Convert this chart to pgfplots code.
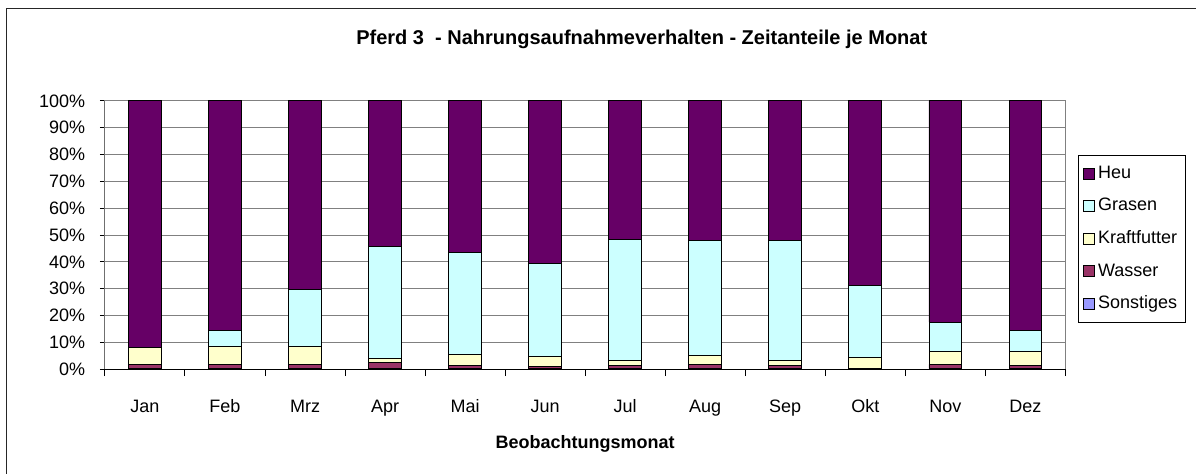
\documentclass[border=0pt]{standalone}
\usepackage{fontspec}
\setmainfont{Liberation Sans}
\usepackage{pgfplots}
\usepackage{pgfplotstable}
\pgfplotsset{compat=1.18}
\definecolor{heu}{HTML}{660066}
\definecolor{grasen}{HTML}{CCFFFF}
\definecolor{kraft}{HTML}{FFFFCC}
\definecolor{wasser}{HTML}{993366}
\definecolor{sonst}{HTML}{9999FF}
\definecolor{gridgray}{HTML}{808080}
\pgfplotstableread{
x S W K G H
0 0.3 1.5 6.4 0.0 91.8
1 0.3 1.5 6.5 6.2 85.5
2 0.3 1.5 6.5 21.3 70.4
3 0.3 2.1 1.4 41.8 54.4
4 0.3 1.0 4.3 38.0 56.4
5 0.3 0.5 3.8 34.6 60.8
6 0.3 1.2 1.8 45.0 51.7
7 0.3 1.45 3.35 42.7 52.2
8 0.3 1.2 1.8 44.5 52.2
9 0.2 0.1 4.2 26.5 69.0
10 0.3 1.45 4.85 10.9 82.5
11 0.3 1.1 5.2 7.7 85.7
}\data
\begin{document}
\begin{tikzpicture}
\path (0pt,0pt) rectangle (598.5pt,237pt);
\draw[line width=0.75pt, black!85] (3.35pt,0pt) -- (3.35pt,232.85pt) -- (598.5pt,232.85pt);
\node[font=\fontsize{10}{12}\selectfont\bfseries, anchor=base, inner sep=0pt] at (321.1pt,214.5pt) {Pferd 3\ \ - Nahrungsaufnahmeverhalten - Zeitanteile je Monat};
\begin{axis}[
  at={(52.5pt,52.35pt)}, anchor=south west,
  scale only axis, width=480.5pt, height=134.15pt,
  ybar stacked, bar width=16.3pt,
  xmin=-0.5, xmax=11.5, ymin=0, ymax=100,
  axis line style={gridgray, line width=0.5pt},
  font=\fontsize{9}{10.8}\selectfont,
  /pgf/number format/assume math mode=true,
  xtick={0,...,11},
  xticklabels={Jan,Feb,Mrz,Apr,Mai,Jun,Jul,Aug,Sep,Okt,Nov,Dez},
  xtick style={draw=none},
  xticklabel style={anchor=base, yshift=-19pt, inner sep=0pt},
  extra x ticks={-0.5,0.5,...,11.5},
  extra x tick labels={},
  extra x tick style={xtick style={draw=black, line width=0.5pt}, major tick length=3.5pt, tick align=outside},
  ytick={0,10,...,100},
  yticklabel={\pgfmathprintnumber{\tick}\%},
  yticklabel style={anchor=east, inner sep=0pt, xshift=-7.15pt},
  ytick style={draw=black, line width=0.5pt},
  major tick length=2.5pt,
  tick align=outside,
  xtick pos=bottom, ytick pos=left,
  ymajorgrids, grid style={gridgray, line width=0.5pt},
  xlabel={\bfseries Beobachtungsmonat},
  xlabel style={at={(axis description cs:0.5,0)}, anchor=base, yshift=-39.5pt, inner sep=0pt},
  reverse legend,
  legend cell align=left,
  legend style={at={(1,1)}, anchor=north west, xshift=6.15pt, yshift=-27pt,
    draw=black, line width=0.5pt, inner xsep=2.5pt, inner ysep=3.5pt,
    row sep=5pt, font=\fontsize{9}{10.8}\selectfont,
    nodes={inner sep=1.5pt, text height=6.5pt, text depth=1.8pt}},
  legend image code/.code={\draw[#1,draw=black,line width=0.5pt] (0pt,-2.75pt) rectangle (5.5pt,2.75pt);},
  every axis plot/.append style={draw=black, line width=0.5pt},
]
\addplot[fill=sonst] table[x=x,y=S]{\data};
\addplot[fill=wasser] table[x=x,y=W]{\data};
\addplot[fill=kraft] table[x=x,y=K]{\data};
\addplot[fill=grasen] table[x=x,y=G]{\data};
\addplot[fill=heu] table[x=x,y=H]{\data};
\legend{Sonstiges,Wasser,Kraftfutter,Grasen,Heu}
\draw[black, line width=0.5pt] (rel axis cs:0,1) -- (rel axis cs:0,0) -- (rel axis cs:1,0);
\end{axis}
\end{tikzpicture}
\end{document}
